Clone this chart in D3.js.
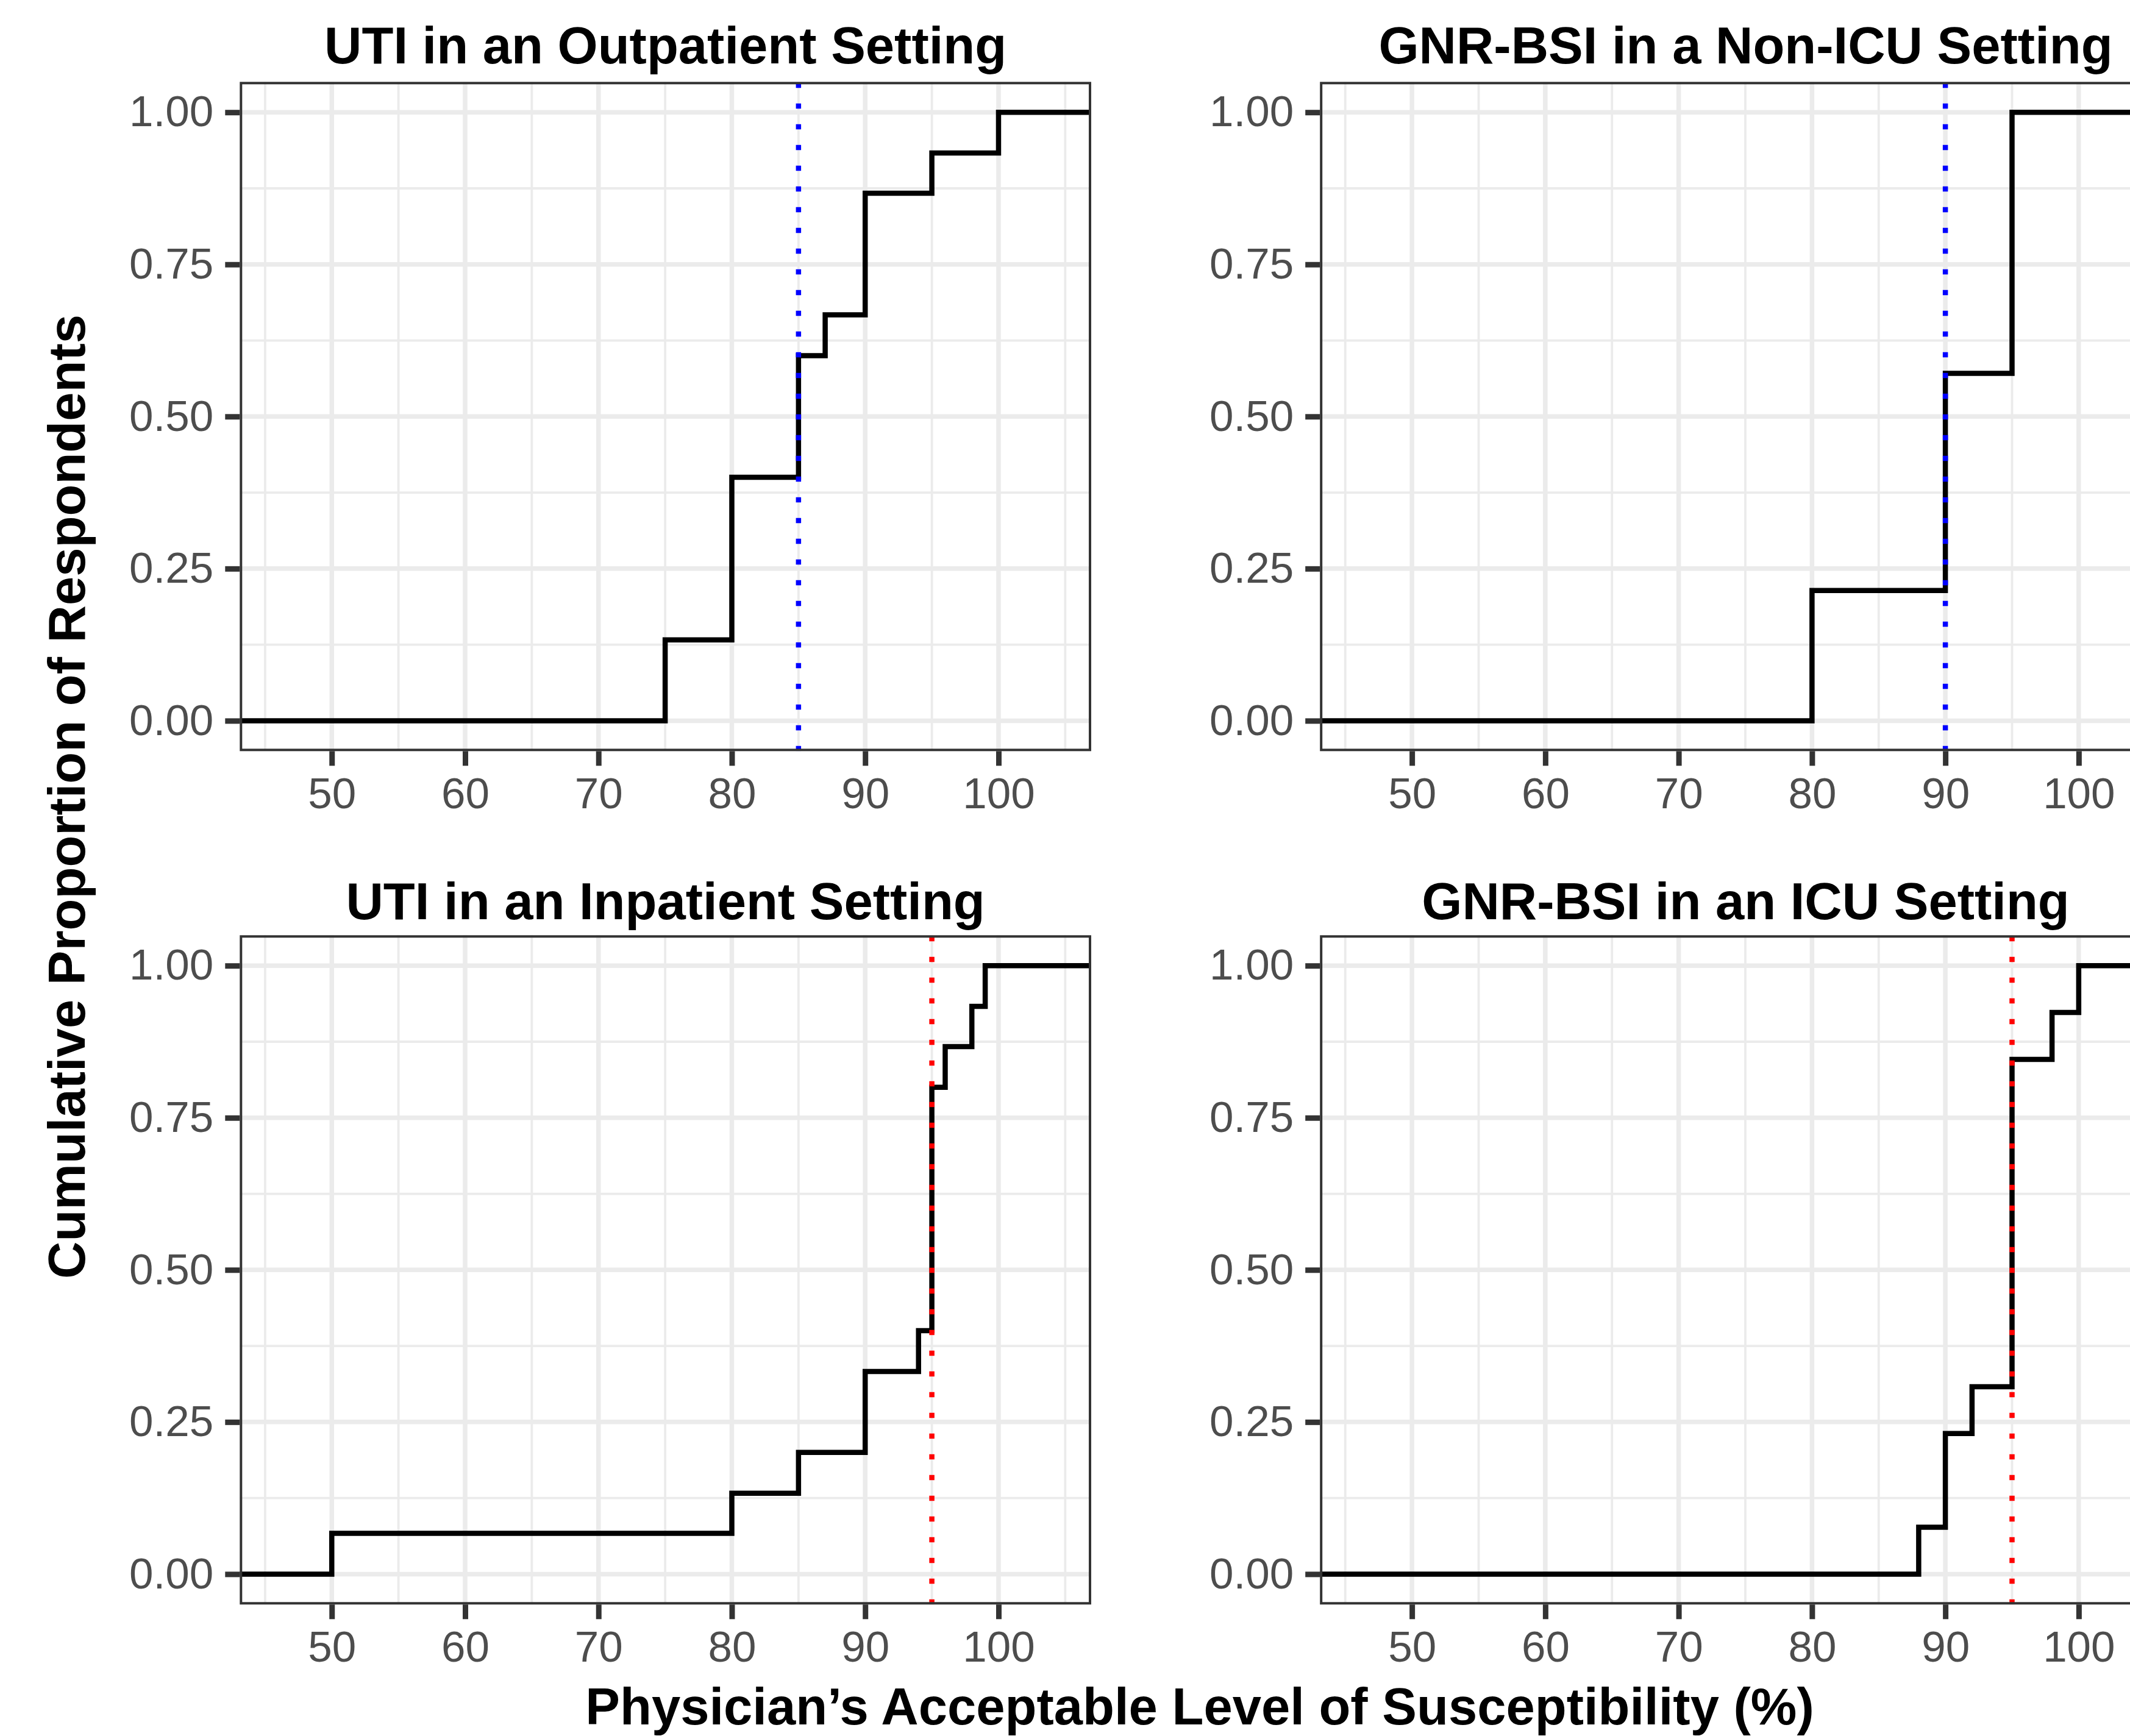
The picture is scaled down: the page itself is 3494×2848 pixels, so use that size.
<!DOCTYPE html>
<html>
<head>
<meta charset="utf-8">
<script src="https://cdn.jsdelivr.net/npm/d3@7"></script>
<style>
    body { margin: 0; background: #ffffff; overflow: hidden; }
    svg { display: block; font-family: "Liberation Sans", Arial, Helvetica, sans-serif; }
</style>
</head>
<body>
<svg id="chart" width="3494" height="2848"></svg>
<script>

// Titles of the four panels (row by row)
let panel_titles = [
    "UTI in an Outpatient Setting",
    "GNR-BSI in a Non-ICU Setting",
    "UTI in an Inpatient Setting",
    "GNR-BSI in an ICU Setting"
];

// Step positions (acceptable susceptibility %) and cumulative proportion after each step
let uti_out_x = [75, 80, 85, 87, 90, 95, 100];
let uti_out_y = [0.133, 0.400, 0.600, 0.667, 0.867, 0.933, 1.000];

let gnr_non_icu_x = [80, 90, 95];
let gnr_non_icu_y = [0.214, 0.571, 1.000];

let uti_in_x = [50, 80, 85, 90, 94, 95, 96, 98, 99];
let uti_in_y = [0.067, 0.133, 0.200, 0.333, 0.400, 0.800, 0.867, 0.933, 1.000];

let gnr_icu_x = [88, 90, 92, 95, 98, 100];
let gnr_icu_y = [0.077, 0.231, 0.308, 0.846, 0.923, 1.000];

// Dotted reference line of each panel
let ref_x = [85, 90, 95, 95];
let ref_color = ["#0000FF", "#0000FF", "#FF0000", "#FF0000"];

// Axis ticks
let x_ticks = [50, 60, 70, 80, 90, 100];
let x_minor = [45, 55, 65, 75, 85, 95, 105];
let y_ticks = [0, 0.25, 0.5, 0.75, 1];
let y_minor = [0.125, 0.375, 0.625, 0.875];

let x_title = "Physician\u2019s Acceptable Level of Susceptibility (%)";
let y_title = "Cumulative Proportion of Respondents";


// Panel sizes and positions
let panel_w = 1396.7;
let panel_h = 1098;
let panel_left = [393.3, 2165.2];
let panel_top = [134.3, 1534.3];
let title_base = [104, 1508];

let steps = [
    {x: uti_out_x, y: uti_out_y},
    {x: gnr_non_icu_x, y: gnr_non_icu_y},
    {x: uti_in_x, y: uti_in_y},
    {x: gnr_icu_x, y: gnr_icu_y}
];

let xScale = d3.scaleLinear()
    .domain([43.1, 106.95])
    .range([0, panel_w]);

let yScale = d3.scaleLinear()
    .domain([-0.05, 1.05])
    .range([panel_h, 0]);

let svg = d3.select('#chart');

svg.append('rect')
    .attr('width', 3494)
    .attr('height', 2848)
    .attr('fill', '#ffffff');

let stepLine = d3.line()
    .x(d => xScale(d[0]))
    .y(d => yScale(d[1]))
    .curve(d3.curveStepAfter);


// This function draws one panel
function draw_panel(i) {

    let col = i % 2;
    let row = Math.floor(i / 2);

    let g = svg.append('g')
        .attr('transform', `translate(${panel_left[col]}, ${panel_top[row]})`);

    // Clip everything inside the panel
    g.append('clipPath')
        .attr('id', 'clip' + i)
        .append('rect')
        .attr('width', panel_w)
        .attr('height', panel_h);

    let inner = g.append('g')
        .attr('clip-path', `url(#clip${i})`);

    inner.append('rect')
        .attr('width', panel_w)
        .attr('height', panel_h)
        .attr('fill', '#ffffff');

    // Minor grid
    inner.selectAll('.vminor')
        .data(x_minor)
        .join('line')
        .attr('x1', d => xScale(d)).attr('x2', d => xScale(d))
        .attr('y1', 0).attr('y2', panel_h)
        .attr('stroke', '#EBEBEB').attr('stroke-width', 3.8);

    inner.selectAll('.hminor')
        .data(y_minor)
        .join('line')
        .attr('y1', d => yScale(d)).attr('y2', d => yScale(d))
        .attr('x1', 0).attr('x2', panel_w)
        .attr('stroke', '#EBEBEB').attr('stroke-width', 3.8);

    // Major grid
    inner.selectAll('.vmajor')
        .data(x_ticks)
        .join('line')
        .attr('x1', d => xScale(d)).attr('x2', d => xScale(d))
        .attr('y1', 0).attr('y2', panel_h)
        .attr('stroke', '#EBEBEB').attr('stroke-width', 7.5);

    inner.selectAll('.hmajor')
        .data(y_ticks)
        .join('line')
        .attr('y1', d => yScale(d)).attr('y2', d => yScale(d))
        .attr('x1', 0).attr('x2', panel_w)
        .attr('stroke', '#EBEBEB').attr('stroke-width', 7.5);

    // ECDF step line, padded to the panel edges
    let dom = xScale.domain();
    let pts = [[dom[0], 0]];
    steps[i].x.forEach((v, k) => pts.push([v, steps[i].y[k]]));
    pts.push([dom[1], steps[i].y[steps[i].y.length - 1]]);

    inner.append('path')
        .datum(pts)
        .attr('d', stepLine)
        .attr('fill', 'none')
        .attr('stroke', '#000000')
        .attr('stroke-width', 8.5);

    // Dotted reference line (drawn from the bottom up)
    inner.append('line')
        .attr('x1', xScale(ref_x[i])).attr('x2', xScale(ref_x[i]))
        .attr('y1', panel_h).attr('y2', 0)
        .attr('stroke', ref_color[i])
        .attr('stroke-width', 8.5)
        .attr('stroke-dasharray', '8.5 25.5');

    // Panel border
    g.append('rect')
        .attr('x', 2).attr('y', 2)
        .attr('width', panel_w - 4)
        .attr('height', panel_h - 4)
        .attr('fill', 'none')
        .attr('stroke', '#333333')
        .attr('stroke-width', 4);

    // Y axis
    let yAxis = g.append('g')
        .call(d3.axisLeft(yScale)
            .tickValues(y_ticks)
            .tickFormat(d3.format('.2f'))
            .tickSize(24)
            .tickPadding(19));

    // X axis
    let xAxis = g.append('g')
        .attr('transform', `translate(0, ${panel_h})`)
        .call(d3.axisBottom(xScale)
            .tickValues(x_ticks)
            .tickFormat(d3.format('d'))
            .tickSize(24)
            .tickPadding(19));

    [yAxis, xAxis].forEach(ax => {
        ax.select('.domain').remove();
        ax.attr('font-family', null).attr('font-size', 71);
        ax.selectAll('.tick line').attr('stroke', '#333333').attr('stroke-width', 9);
        ax.selectAll('.tick text').attr('fill', '#4D4D4D');
    });

    // Panel title
    g.append('text')
        .attr('x', panel_w / 2)
        .attr('y', title_base[row] - panel_top[row])
        .attr('text-anchor', 'middle')
        .attr('font-size', 85)
        .attr('font-weight', 'bold')
        .attr('fill', '#000000')
        .text(panel_titles[i]);

} // end of draw_panel()


for (let i = 0; i < 4; i++) {
    draw_panel(i);
}

// Shared axis titles
svg.append('text')
    .attr('x', 1968)
    .attr('y', 2829)
    .attr('text-anchor', 'middle')
    .attr('font-size', 85)
    .attr('font-weight', 'bold')
    .text(x_title);

svg.append('text')
    .attr('transform', 'translate(139, 1307) rotate(-90)')
    .attr('text-anchor', 'middle')
    .attr('font-size', 85)
    .attr('font-weight', 'bold')
    .text(y_title);

</script>
</body>
</html>
